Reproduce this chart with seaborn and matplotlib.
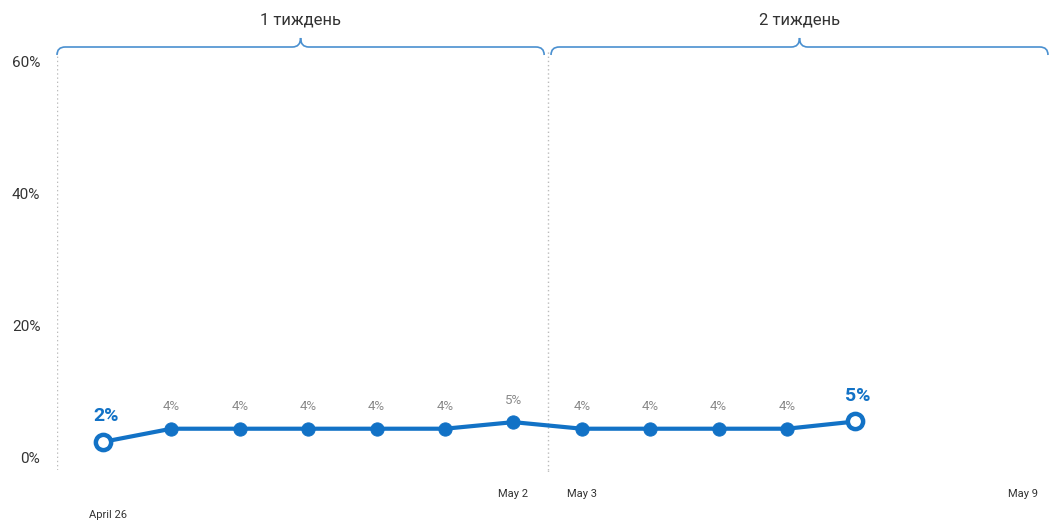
import matplotlib
matplotlib.use("Agg")
import matplotlib.pyplot as plt
import matplotlib.transforms as mtransforms
from matplotlib.path import Path
from matplotlib.patches import PathPatch
import seaborn as sns
import pandas as pd

# ---- data ----
day_index = [0, 1, 2, 3, 4, 5, 6, 7, 8, 9, 10, 11]
values = [2.3, 4.3, 4.3, 4.3, 4.3, 4.3, 5.3, 4.3, 4.3, 4.3, 4.3, 5.4]
value_labels = ["2%", "4%", "4%", "4%", "4%", "4%", "5%", "4%", "4%", "4%", "4%", "5%"]
tick_pos = [0, 6, 7, 13.45]
tick_labels = ["April 26", "May 2", "May 3", "May 9"]
y_ticks = [0, 20, 40, 60]
y_tick_labels = ["0%", "20%", "40%", "60%"]
weeks = ["1 тиждень", "2 тиждень"]
week_spans = [(-0.6725, 6.45), (6.55, 13.816)]
divider_pos = [-0.6725, 6.5]

BLUE = "#1272c6"
GREY = "#8a8a8a"

sns.set_theme(style="white")
plt.rcParams["font.family"] = ["Roboto", "DejaVu Sans"]

fig = plt.figure(figsize=(10.51, 5.22), dpi=100)
W, H = 1051, 522
ax = fig.add_axes([57 / W, (H - 470) / H, (1048 - 57) / W, (470 - 50) / H])

df = pd.DataFrame({"day": day_index, "value": values})
sns.lineplot(data=df, x="day", y="value", ax=ax, color=BLUE, linewidth=3.0,
             marker="o", markersize=9.5, markeredgecolor=BLUE, markerfacecolor=BLUE, zorder=3)

# open end markers
ends = df.iloc[[0, -1]]
ax.plot(ends["day"], ends["value"], linestyle="none", marker="o", markersize=11,
        markerfacecolor="white", markeredgecolor=BLUE, markeredgewidth=3.2, zorder=4)

# value labels
for i, (d, v, lab) in enumerate(zip(day_index, values, value_labels)):
    if i == 0 or i == len(values) - 1:
        ax.annotate(lab, (d, v), xytext=(2, 12), textcoords="offset points",
                    ha="center", va="bottom", fontsize=14, fontweight="bold", color=BLUE)
    else:
        ax.annotate(lab, (d, v), xytext=(0, 11), textcoords="offset points",
                    ha="center", va="bottom", fontsize=9.5, color=GREY)

ax.set_xlim(-0.6725, 13.816)
ax.set_ylim(-1.97, 61.82)
ax.set_yticks(y_ticks)
ax.set_yticklabels(y_tick_labels, fontsize=11, color="#333333")
ax.set_xticks(tick_pos)
ax.set_xticklabels(tick_labels, fontsize=8, color="#333333")
ax.tick_params(axis="both", length=0)
ax.tick_params(axis="y", pad=12)
ax.tick_params(axis="x", pad=14)
for t in ax.get_xticklabels():
    if t.get_text() == "April 26":
        t.set_y(-0.048)
        t.set_transform(t.get_transform() + mtransforms.ScaledTranslation(5 / 100, 0, fig.dpi_scale_trans))
ax.set_xlabel("")
ax.set_ylabel("")
for s in ax.spines.values():
    s.set_visible(False)

# dotted dividers
for xd in divider_pos:
    ax.axvline(xd, color="#bbbbbb", linestyle=(0, (1, 2)), linewidth=1.0, zorder=1)
ax.plot([6.5, 6.5], [-1.97, -2.5], color="#bbbbbb", linestyle=(0, (1, 2)), lw=1.0, clip_on=False)

# curly braces
trans = mtransforms.blended_transform_factory(ax.transData, fig.transFigure)
yb = (H - 47) / H
yt = (H - 38) / H
for (x0, x1), name in zip(week_spans, weeks):
    xm = (x0 + x1) / 2
    dx = 0.12
    verts = [
        (x0, yb - 8 / H), (x0, yb), (x0 + dx, yb),
        (xm - dx, yb), (xm, yb), (xm, yt),
        (xm, yb), (xm + dx, yb),
        (x1 - dx, yb), (x1, yb), (x1, yb - 8 / H),
    ]
    codes = [Path.MOVETO, Path.CURVE3, Path.CURVE3,
             Path.LINETO, Path.CURVE3, Path.CURVE3,
             Path.CURVE3, Path.CURVE3,
             Path.LINETO, Path.CURVE3, Path.CURVE3]
    patch = PathPatch(Path(verts, codes), transform=trans, fill=False,
                      edgecolor="#4a90d0", linewidth=1.2, clip_on=False)
    fig.add_artist(patch)
    fig.text(xm, (H - 20) / H, name, transform=trans, fontsize=12, color="#333333",
             ha="center", va="center")

fig.savefig("out.png", dpi=100, facecolor="white")
